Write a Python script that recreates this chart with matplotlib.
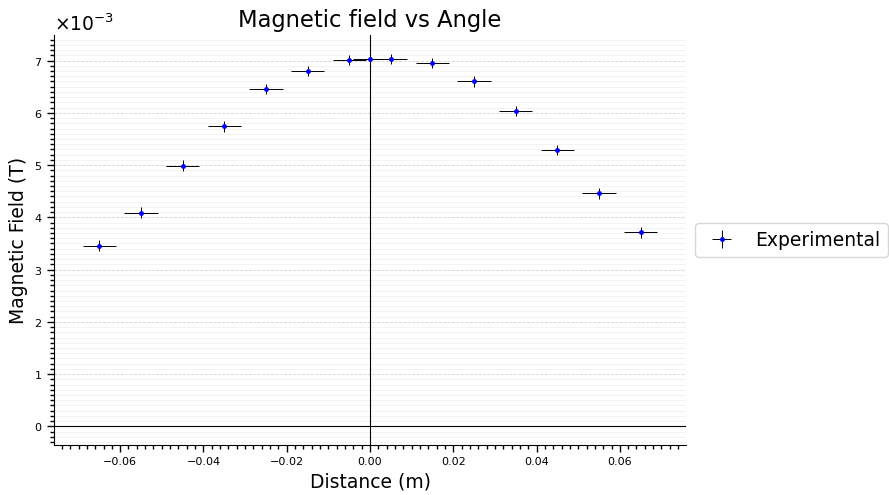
import matplotlib
matplotlib.use("Agg")
import matplotlib.pyplot as plt
from matplotlib.ticker import MultipleLocator, ScalarFormatter

# Measured field along the axis
distance_m = [-0.065, -0.055, -0.045, -0.035, -0.025, -0.015, -0.005, 0.0,
              0.005, 0.015, 0.025, 0.035, 0.045, 0.055, 0.065]
field_mT = [3.46, 4.09, 4.99, 5.74, 6.46, 6.80, 7.01, 7.03,
            7.03, 6.95, 6.60, 6.04, 5.29, 4.46, 3.71]
distance_err_m = 0.004
field_err_mT = 0.1

field_T = [v * 1e-3 for v in field_mT]
field_err_T = field_err_mT * 1e-3

fig = plt.figure(figsize=(8.89, 4.95), dpi=100)
ax = fig.add_axes([0.0607, 0.101, 0.711, 0.828])

ax.errorbar(distance_m, field_T, xerr=distance_err_m, yerr=field_err_T,
            fmt='.', color='blue', markersize=5, ecolor='black',
            elinewidth=0.7, label='Experimental', zorder=3)

ax.axhline(0, color='black', linewidth=0.8)
ax.axvline(0, color='black', linewidth=0.8)

ax.set_title('Magnetic field vs Angle', fontsize=16.3)
ax.set_xlabel('Distance (m)', fontsize=13.5)
ax.set_ylabel('Magnetic Field (T)', fontsize=13.5)

ax.yaxis.set_major_locator(MultipleLocator(1e-3))
ax.yaxis.set_minor_locator(MultipleLocator(1e-4))
ax.xaxis.set_major_locator(MultipleLocator(0.02))
ax.xaxis.set_minor_locator(MultipleLocator(0.002))
fmt = ScalarFormatter(useMathText=True)
fmt.set_powerlimits((-3, -3))
ax.yaxis.set_major_formatter(fmt)
ax.tick_params(axis='both', which='major', labelsize=8, length=5, width=1)
ax.tick_params(axis='both', which='minor', length=3, width=1)
ax.yaxis.get_offset_text().set_fontsize(13.5)

ax.grid(True, axis='y', which='major', linestyle='--', color='lightgray', linewidth=0.6)
ax.grid(True, axis='y', which='minor', linestyle='-', color='#eeeeee', linewidth=0.5)
ax.set_axisbelow(True)

ax.spines['top'].set_visible(False)
ax.spines['right'].set_visible(False)

ax.legend(loc='center left', bbox_to_anchor=(1, 0.5), fontsize=13.5)

fig.savefig('out.png', dpi=100)
